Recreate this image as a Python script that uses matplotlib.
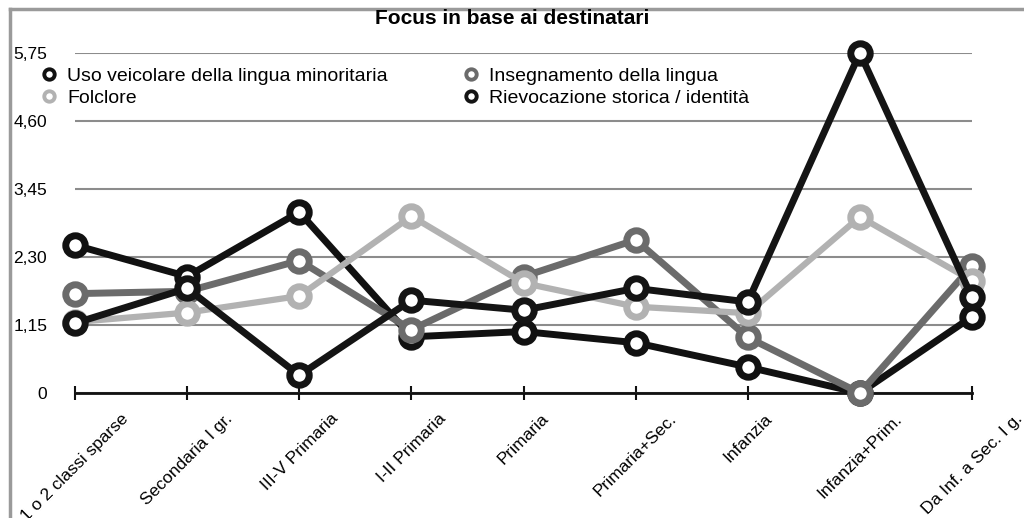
import matplotlib
matplotlib.use("Agg")
import matplotlib.pyplot as plt
from matplotlib.lines import Line2D
from matplotlib.transforms import ScaledTranslation

plt.rcParams['font.family'] = ['Liberation Sans', 'DejaVu Sans']

categories = ['1 o 2 classi sparse', 'Secondaria I gr.', 'III-V Primaria', 'I-II Primaria',
              'Primaria', 'Primaria+Sec.', 'Infanzia', 'Infanzia+Prim.', 'Da Inf. a Sec. I g.']
uso = [2.50, 1.97, 3.06, 0.95, 1.04, 0.85, 0.44, 0.0, 1.29]
insegnamento = [1.68, 1.72, 2.24, 1.07, 1.97, 2.59, 0.94, 0.0, 2.15]
folclore = [1.20, 1.36, 1.64, 2.99, 1.86, 1.46, 1.35, 2.98, 1.90]
rievocazione = [1.18, 1.77, 0.30, 1.57, 1.40, 1.77, 1.54, 5.75, 1.62]
yticks = [0, 1.15, 2.30, 3.45, 4.60, 5.75]
ytick_labels = ['0', '1,15', '2,30', '3,45', '4,60', '5,75']

W, H = 1024, 518
fig = plt.figure(figsize=(W / 100, H / 100), dpi=100)
ax = fig.add_axes([75 / W, 125 / H, (972 - 75) / W, (393 - 53) / H])

# outer grey frame (left and top visible)
fig.add_artist(Line2D([10 / W, 10 / W], [0, 1 - 9 / H], transform=fig.transFigure, color='#9a9a9a', lw=2.5))
fig.add_artist(Line2D([10 / W, 1], [1 - 9 / H, 1 - 9 / H], transform=fig.transFigure, color='#9a9a9a', lw=2.5))

x = list(range(len(categories)))
series = [
    (uso, 'Uso veicolare della lingua minoritaria', '#111111', 5.0),
    (insegnamento, 'Insegnamento della lingua', '#6b6b6b', 5.0),
    (folclore, 'Folclore', '#b2b2b2', 4.5),
    (rievocazione, 'Rievocazione storica / identità', '#141414', 5.0),
]
handles = []
for i, (vals, name, col, lw) in enumerate(series):
    ax.plot(x, vals, color=col, lw=lw, marker='o', ms=14, mfc='white', mec=col, mew=5,
            clip_on=False, zorder=3 + i, solid_joinstyle='miter')
    handles.append(Line2D([], [], ls='none', marker='o', ms=7.5, mfc='white', mec=col, mew=2.8, label=name))

ax.set_xlim(0, len(categories) - 1)
ax.set_ylim(0, 5.75)
ax.set_yticks(yticks)
ax.set_yticklabels(ytick_labels, fontsize=12.5)
ax.set_xticks(x)
ax.set_xticklabels(categories, rotation=45, ha='center', fontsize=12.5)
shift = ScaledTranslation(4 / 100, 0, fig.dpi_scale_trans)
for lbl in ax.get_xticklabels():
    lbl.set_transform(lbl.get_transform() + shift)
ax.tick_params(axis='y', length=0, pad=20)
ax.tick_params(axis='x', direction='inout', length=10, width=1.5, color='#111111', pad=8)
for s in ['left', 'right', 'top']:
    ax.spines[s].set_visible(False)
ax.spines['bottom'].set_color('#111111')
ax.spines['bottom'].set_linewidth(2)
ax.spines['bottom'].set_zorder(2.5)
ax.yaxis.grid(True, color='#8c8c8c', lw=1.5)
ax.set_axisbelow(True)

leg_kw = dict(frameon=False, loc='upper left', fontsize=14, handletextpad=0.5,
              labelspacing=0.24, handlelength=0.9, borderpad=0, borderaxespad=0)
leg1 = fig.legend(handles=[handles[0], handles[2]], bbox_to_anchor=(40 / W, 1 - 67 / H), **leg_kw)
leg2 = fig.legend(handles=[handles[1], handles[3]], bbox_to_anchor=(462 / W, 1 - 67 / H), **leg_kw)

fig.text(512 / W, 1 - 19 / H, 'Focus in base ai destinatari', ha='center', va='center',
         fontsize=15, fontweight='bold')

fig.savefig('out.png', dpi=100)
